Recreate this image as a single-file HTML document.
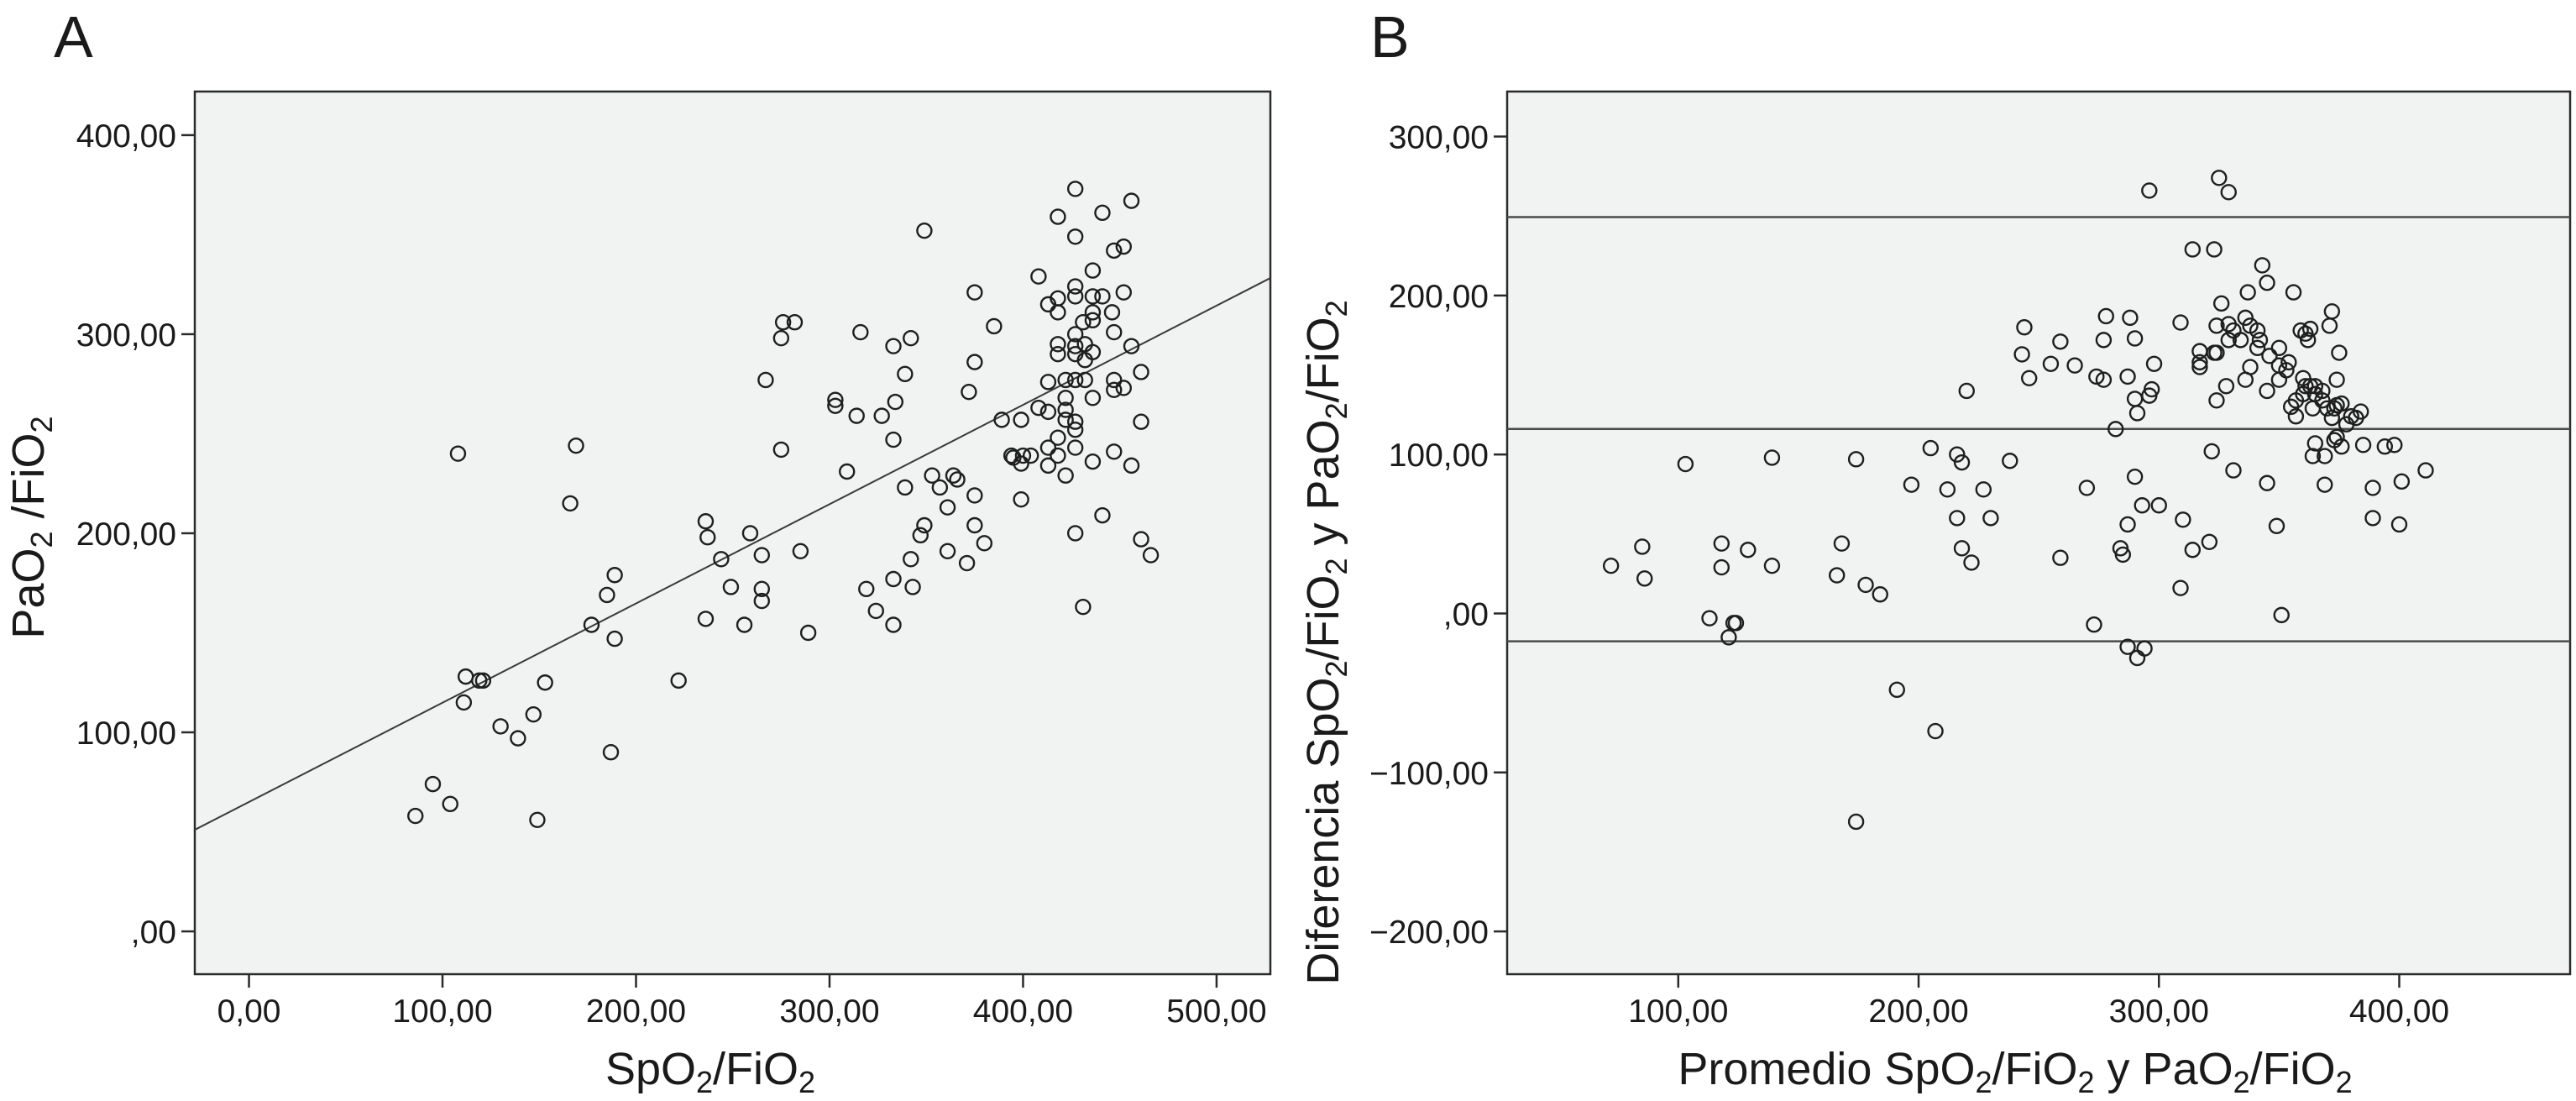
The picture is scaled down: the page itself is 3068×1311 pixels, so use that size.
<!DOCTYPE html>
<html><head><meta charset="utf-8">
<style>
html,body{margin:0;padding:0;background:#fff;}
svg{display:block;font-family:"Liberation Sans",Arial,sans-serif;}
</style></head>
<body>
<svg id="fig" width="3068" height="1311" viewBox="0 0 3068 1311" xmlns="http://www.w3.org/2000/svg">
<text x="64" y="68" font-size="70" fill="#1a1a1a">A</text>
<text x="1632" y="68" font-size="70" fill="#1a1a1a">B</text>
<g id="pa"></g>
<g id="pb"></g>
<text x="846" y="1291" font-size="54" text-anchor="middle" fill="#1a1a1a">SpO<tspan font-size="36" dy="10">2</tspan><tspan dy="-10">/FiO</tspan><tspan font-size="36" dy="10">2</tspan></text>
<text transform="translate(52,628) rotate(-90)" font-size="54" text-anchor="middle" fill="#1a1a1a">PaO<tspan font-size="36" dy="10">2</tspan><tspan dy="-10"> /FiO</tspan><tspan font-size="36" dy="10">2</tspan></text>
<text x="2400" y="1291" font-size="54" text-anchor="middle" fill="#1a1a1a">Promedio SpO<tspan font-size="36" dy="10">2</tspan><tspan dy="-10">/FiO</tspan><tspan font-size="36" dy="10">2</tspan><tspan dy="-10"> y PaO</tspan><tspan font-size="36" dy="10">2</tspan><tspan dy="-10">/FiO</tspan><tspan font-size="36" dy="10">2</tspan></text>
<text transform="translate(1594,765) rotate(-90)" font-size="54" text-anchor="middle" fill="#1a1a1a">Diferencia SpO<tspan font-size="36" dy="10">2</tspan><tspan dy="-10">/FiO</tspan><tspan font-size="36" dy="10">2</tspan><tspan dy="-10"> y PaO</tspan><tspan font-size="36" dy="10">2</tspan><tspan dy="-10">/FiO</tspan><tspan font-size="36" dy="10">2</tspan></text>
</svg>
<script>
// Panel A data
const aX = [86,95,104,108,112,111,119,121,130,139,147,149,153,166,169,177,185,189,189,187,222,236,237,236,244,249,256,259,265,265,265,267,275,275,276,282,285,289,303,303,309,314,316,319,324,327,333,334,333,333,333,339,339,342,342,343,349,349,347,353,357,361,361,364,366,372,371,375,375,375,375,380,385,389,394,395,400,404,399,399,399,408,408,413,413,413,413,413,418,418,418,418,418,418,418,422,422,422,422,422,427,427,427,427,427,427,427,427,427,427,427,427,431,431,432,432,432,436,436,436,436,436,436,436,441,441,441,446,447,447,447,447,447,452,452,452,456,456,456,461,461,461,466];
const aY = [58,74,64,240,128,115,126,126,103,97,109,56,125,215,244,154,169,179,147,90,126,206,198,157,187,173,154,200,189,172,166,277,242,298,306,306,191,150,267,264,231,259,301,172,161,259,294,266,247,177,154,280,223,298,187,173,352,204,199,229,223,213,191,229,227,271,185,321,286,219,204,195,304,257,239,238,239,239,257,217,235,329,263,261,315,276,243,234,359,318,311,295,290,248,239,229,277,268,262,257,373,349,324,319,300,294,290,277,256,252,243,200,163,306,295,287,277,268,332,319,311,307,291,236,209,361,319,311,342,301,277,272,241,321,344,273,234,367,294,256,281,197,189,277];
const aXTicks = [0,100,200,300,400,500];
const aYTicks = [0,100,200,300,400];
const aXTickLabels = ["0,00","100,00","200,00","300,00","400,00","500,00"];
const aYTickLabels = [",00","100,00","200,00","300,00","400,00"];
const aFit = [65, 0.4987]; // intercept, slope

// Panel B data
const bX = [72,85,86,103,113,118,118,121,124,123,129,139,139,166,168,174,174,178,184,191,197,205,207,212,216,216,218,218,220,222,227,230,238,243,244,246,255,259,259,265,270,273,274,277,277,278,282,284,285,287,287,288,287,290,290,290,291,291,293,294,296,297,296,298,300,309,309,310,314,314,317,317,317,321,322,323,323,324,324,324,325,326,328,329,329,329,331,331,334,336,336,337,338,338,341,341,342,343,345,345,345,346,349,350,350,350,351,353,354,355,356,357,357,360,359,360,361,361,362,363,363,364,365,365,365,364,368,368,369,369,370,371,372,372,373,374,374,373,374,375,376,376,378,380,382,384,385,389,389,394,398,401,400,411];
const bY = [30,42,22,94,-3,29,44,-15,-6,-6,40,98,30,24,44,97,-131,18,12,-48,81,104,-74,78,100,60,95,41,140,32,78,60,96,163,180,148,157,171,35,156,79,-7,149,172,147,187,116,41,37,56,149,186,-21,173,86,135,126,-28,68,-22,137,141,266,157,68,183,16,59,40,229,158,155,165,45,102,229,164,164,181,134,274,195,143,265,172,182,90,178,172,147,186,202,155,181,178,167,172,219,82,208,140,162,55,167,156,147,-1,153,158,130,202,124,134,148,178,138,143,176,172,179,143,129,143,138,107,99,140,134,81,99,129,181,190,123,129,131,147,109,111,164,105,132,119,124,123,127,106,79,60,105,106,83,56,90];
const bXTicks = [100,200,300,400];
const bYTicks = [-200,-100,0,100,200,300];
const bXTickLabels = ["100,00","200,00","300,00","400,00"];
const bYTickLabels = ["\u2212200,00","\u2212100,00",",00","100,00","200,00","300,00"];
const bLimits = [249.3, 116.1, -17.5]; // upper LoA, mean, lower LoA

const NS = "http://www.w3.org/2000/svg";
function mk(parent, tag, attrs){
  const e = document.createElementNS(NS, tag);
  for (const k in attrs) e.setAttribute(k, attrs[k]);
  parent.appendChild(e);
  return e;
}
function panel(g, box, xd, yd, xs, ys, xticks, xlabels, yticks, ylabels, prefix){
  const sx = v => box.l + (v - xd[0]) / (xd[1] - xd[0]) * (box.r - box.l);
  const sy = v => box.b - (v - yd[0]) / (yd[1] - yd[0]) * (box.b - box.t);
  const bg = mk(g, "rect", {x:box.l, y:box.t, width:box.r-box.l, height:box.b-box.t, fill:"#f1f3f2", stroke:"#2a2a2a", "stroke-width":2.5});
  
  
  xticks.forEach((v,i)=>{
    const x = sx(v);
    const t = mk(g, "line", {x1:x, x2:x, y1:box.b, y2:box.b+16, stroke:"#2a2a2a", "stroke-width":2.5});
    
    
    const tx = mk(g, "text", {x:x, y:box.b+57, "font-size":39, "text-anchor":"middle", fill:"#1a1a1a"});
    tx.textContent = xlabels[i];
    
    
  });
  yticks.forEach((v,i)=>{
    const y = sy(v);
    const t = mk(g, "line", {x1:box.l-16, x2:box.l, y1:y, y2:y, stroke:"#2a2a2a", "stroke-width":2.5});
    
    
    const tx = mk(g, "text", {x:box.l-22, y:y+14, "font-size":39, "text-anchor":"end", fill:"#1a1a1a"});
    tx.textContent = ylabels[i];
    
    
  });
  return {sx, sy};
}
function points(g, xs, ys, s, prefix){
  xs.forEach((v,i)=>{
    const c = mk(g, "circle", {cx:s.sx(v), cy:s.sy(ys[i]), r:8.5, fill:"none", stroke:"#1e1e1e", "stroke-width":2.4});
    
    
  });
}

// Panel A
const ga = document.getElementById("pa");
const boxA = {l:232, r:1513, t:109, b:1160};
const xdA = [-28, 527.8], ydA = [-21.5, 421.9];
const sA = panel(ga, boxA, xdA, ydA, aX, aY, aXTicks, aXTickLabels, aYTicks, aYTickLabels, "panel-a");
const fl = mk(ga, "line", {x1:sA.sx(xdA[0]), y1:sA.sy(aFit[0]+aFit[1]*xdA[0]), x2:sA.sx(xdA[1]), y2:sA.sy(aFit[0]+aFit[1]*xdA[1]), stroke:"#3a3a3a", "stroke-width":2});


points(ga, aX, aY, sA, "panel-a");

// Panel B
const gb = document.getElementById("pb");
const boxB = {l:1795, r:3061, t:109, b:1160};
const xdB = [28.8, 471.1], ydB = [-226.9, 328.3];
const sB = panel(gb, boxB, xdB, ydB, bX, bY, bXTicks, bXTickLabels, bYTicks, bYTickLabels, "panel-b");
bLimits.forEach((v,i)=>{
  const y = sB.sy(v);
  const l = mk(gb, "line", {x1:boxB.l, x2:boxB.r, y1:y, y2:y, stroke:"#4a4a4a", "stroke-width":2.5});
  
  
});
points(gb, bX, bY, sB, "panel-b");
</script>
</body></html>
